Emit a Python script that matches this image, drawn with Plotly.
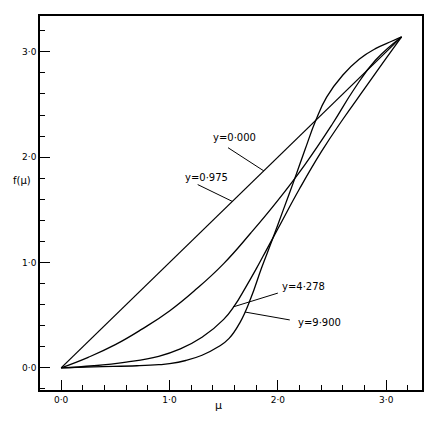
import math
import plotly.graph_objects as go

PI = math.pi

# curve data (mu, f(mu))
mu_y0000 = [0.0, PI]
f_y0000 = [0.0, PI]

mu_y0975 = [0.0, 0.25, 0.5, 0.75, 1.0, 1.25, 1.5, 1.75, 2.0, 2.25, 2.5, 2.7, 2.9, PI]
f_y0975 = [0.0, 0.10, 0.22, 0.37, 0.54, 0.75, 0.99, 1.28, 1.59, 1.93, 2.31, 2.64, 2.92, PI]

mu_y4278 = [0.0, 0.3, 0.6, 0.9, 1.1, 1.3, 1.5, 1.6, 1.7, 1.8, 1.9, 2.0, 2.2, 2.4, 2.6, 2.8, 3.0, PI]
f_y4278 = [0.0, 0.02, 0.055, 0.11, 0.18, 0.29, 0.46, 0.59, 0.76, 0.94, 1.13, 1.32, 1.70, 2.05, 2.36, 2.65, 2.94, PI]

mu_y9900 = [0.0, 0.3, 0.7, 0.9, 1.0, 1.15, 1.3, 1.45, 1.55, 1.65, 1.75, 1.85, 1.95, 2.05, 2.15, 2.25,
            2.35, 2.45, 2.6, 2.75, 2.9, 3.05, PI]
f_y9900 = [0.0, 0.01, 0.02, 0.03, 0.04, 0.07, 0.12, 0.20, 0.28, 0.43, 0.66, 0.95, 1.22, 1.50, 1.78, 2.07,
           2.35, 2.57, 2.78, 2.93, 3.03, 3.10, PI]

tick_vals = [0, 1, 2, 3]
tick_text = ["0·0", "1·0", "2·0", "3·0"]

curve_labels = ["y=0·000", "y=0·975", "y=4·278", "y=9·900"]
# label text centre and leader end points (data coordinates)
label_pos = [(1.60, 2.19), (1.34, 1.81), (2.24, 0.77), (2.38, 0.43)]
leader_start = [(1.54, 2.09), (1.26, 1.74), (2.00, 0.71), (2.11, 0.455)]
leader_end = [(1.87, 1.87), (1.58, 1.58), (1.586, 0.578), (1.697, 0.53)]

FONT = "DejaVu Sans"

fig = go.Figure()
for mu, f in [(mu_y0000, f_y0000), (mu_y0975, f_y0975), (mu_y4278, f_y4278), (mu_y9900, f_y9900)]:
    fig.add_trace(go.Scatter(x=mu, y=f, mode="lines",
                             line=dict(color="black", width=1.3, shape="spline", smoothing=1.3),
                             showlegend=False, hoverinfo="skip"))

for (x0, y0), (x1, y1) in zip(leader_start, leader_end):
    fig.add_shape(type="line", x0=x0, y0=y0, x1=x1, y1=y1, xref="x", yref="y",
                  line=dict(color="black", width=1))

for txt, (x, y) in zip(curve_labels, label_pos):
    fig.add_annotation(x=x, y=y, text=txt, showarrow=False, xref="x", yref="y",
                       font=dict(family=FONT, size=10, color="black"))

fig.add_annotation(x=-0.075, y=0.56, xref="paper", yref="paper", text="f(μ)", showarrow=False,
                   font=dict(family=FONT, size=10, color="black"))
fig.add_annotation(x=0.466, y=-0.065, xref="paper", yref="paper", text="μ", showarrow=False,
                   font=dict(family=FONT, size=11, color="black"))

axis_common = dict(showgrid=False, zeroline=False, showline=True, linecolor="black", linewidth=1.5,
                   mirror=True, ticks="inside", ticklen=10, tickwidth=1.2, tickcolor="black",
                   tickvals=tick_vals, ticktext=tick_text,
                   tickfont=dict(family=FONT, size=9, color="black"),
                   minor=dict(ticks="inside", ticklen=5, tickwidth=1, tickcolor="black",
                              dtick=0.2, tick0=0, showgrid=False))

fig.update_xaxes(range=[-0.195, 3.33], **axis_common)
fig.update_yaxes(range=[-0.21, 3.34], **axis_common)

fig.update_layout(width=441, height=421, margin=dict(l=40, r=19, t=16, b=31),
                  paper_bgcolor="white", plot_bgcolor="white")

fig.write_html("out.html")
